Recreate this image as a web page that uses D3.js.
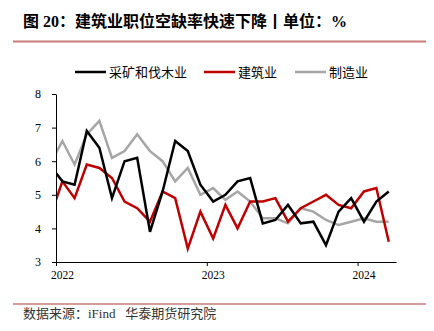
<!DOCTYPE html>
<html>
<head>
<meta charset="utf-8">
<script src="https://cdn.jsdelivr.net/npm/d3@7"></script>
<style>
  html, body { margin: 0; padding: 0; background: #fff; }
  svg { display: block; }
</style>
</head>
<body>
<svg id="chart" width="434" height="331"></svg>
<script>
// ---- data (monthly; Dec 2021 point is clipped at the axis) ----
const months = ["2021-12","2022-01","2022-02","2022-03","2022-04","2022-05","2022-06","2022-07","2022-08","2022-09","2022-10","2022-11","2022-12",
  "2023-01","2023-02","2023-03","2023-04","2023-05","2023-06","2023-07","2023-08","2023-09","2023-10","2023-11","2023-12",
  "2024-01","2024-02","2024-03"];
const mining = [5.9,5.4,5.3,6.9,6.4,4.9,6.0,6.1,3.9,5.1,6.6,6.3,5.3,
  4.8,5.0,5.4,5.5,4.15,4.25,4.7,4.15,4.2,3.5,4.5,4.9,4.2,4.8,5.1];
const construction = [4.3,5.4,4.9,5.9,5.8,5.5,4.8,4.6,4.2,5.1,4.9,3.4,4.5,
  3.7,4.7,4.0,4.8,4.8,4.9,4.2,4.6,4.8,5.0,4.7,4.6,5.1,5.2,3.6];
const manufacturing = [5.9,6.6,5.9,6.8,7.2,6.1,6.3,6.8,6.3,6.0,5.4,5.8,5.0,
  5.2,4.85,5.1,4.8,4.3,4.3,4.15,4.6,4.5,4.25,4.1,4.2,4.3,4.2,4.2];
const seriesNames = ["采矿和伐木业","建筑业","制造业"];
const seriesColors = ["#000000","#c00000","#a6a6a6"];
const yTicks = [3,4,5,6,7,8];
const yearTicks = ["2022","2023","2024"];
const titleText = "图 20：建筑业职位空缺率快速下降丨单位：%";
const sourceText = "数据来源：iFind   华泰期货研究院";

// ---- layout ----
const svg = d3.select("#chart");
const W = 434, H = 331;
const pL = 56, pR = 396, pT = 94, pB = 262;
const fontStack = "'Liberation Serif','Times New Roman','Noto Sans CJK SC',serif";
const cjkStack = "'Noto Sans CJK SC','Liberation Serif',sans-serif";

const parseM = d3.timeParse("%Y-%m");
const midMonth = s => { const d = parseM(s); const n = d3.timeMonth.offset(d, 1); return new Date((+d + +n) / 2); };

const x = d3.scaleTime()
  .domain([new Date(2022, 0, 1), new Date(2024, 3, 3)])
  .range([pL, pR]);
const y = d3.scaleLinear().domain([3, 8]).range([pB, pT]);

// title
svg.append("text")
  .attr("x", 23).attr("y", 27)
  .attr("font-family", fontStack)
  .attr("font-weight", "bold")
  .attr("font-size", 16)
  .attr("fill", "#000")
  .text(titleText);

// rules
svg.append("line").attr("x1", 13).attr("x2", 426).attr("y1", 41.5).attr("y2", 41.5)
  .attr("stroke", "#c97b7b").attr("stroke-width", 2);
svg.append("line").attr("x1", 13).attr("x2", 426).attr("y1", 304).attr("y2", 304)
  .attr("stroke", "#c97b7b").attr("stroke-width", 1.5);

// source
svg.append("text")
  .attr("x", 23).attr("y", 318)
  .attr("font-family", fontStack)
  .attr("font-size", 13)
  .attr("fill", "#333")
  .attr("xml:space", "preserve")
  .style("white-space", "pre")
  .text(sourceText);

// legend
const legendX = [75, 204, 295];
const leg = svg.append("g");
seriesNames.forEach((name, i) => {
  leg.append("line")
    .attr("x1", legendX[i]).attr("x2", legendX[i] + 31)
    .attr("y1", 72).attr("y2", 72)
    .attr("stroke", seriesColors[i]).attr("stroke-width", 2.5);
  leg.append("text")
    .attr("x", legendX[i] + 34).attr("y", 77)
    .attr("font-family", cjkStack)
    .attr("font-size", 13)
    .attr("fill", "#000")
    .text(name);
});

// clip
svg.append("clipPath").attr("id", "plotclip")
  .append("rect").attr("x", pL).attr("y", 0).attr("width", pR - pL).attr("height", H);

// lines
const seriesData = [mining, construction, manufacturing];
const line = d3.line()
  .x((d, i) => x(midMonth(months[i])))
  .y(d => y(d));
const plot = svg.append("g").attr("clip-path", "url(#plotclip)");
[2, 1, 0].forEach(k => {
  plot.append("path")
    .datum(seriesData[k])
    .attr("d", line)
    .attr("fill", "none")
    .attr("stroke", seriesColors[k])
    .attr("stroke-width", 2.5)
    .attr("stroke-linejoin", "miter");
});

// y axis
const yAxis = svg.append("g")
  .attr("transform", `translate(${pL},0)`)
  .call(d3.axisLeft(y).tickValues(yTicks).tickSize(4).tickSizeOuter(0).tickPadding(11).tickFormat(d3.format("d")));
yAxis.selectAll("text").attr("font-family", fontStack).attr("font-size", 12).attr("fill", "#000");
yAxis.selectAll("line, path").attr("stroke", "#000");

// x axis
const xAxis = svg.append("g")
  .attr("transform", `translate(0,${pB})`)
  .call(d3.axisBottom(x)
    .tickValues(yearTicks.map(s => new Date(+s, 0, 1)))
    .tickSize(4).tickSizeOuter(0).tickFormat(""));
xAxis.selectAll("line, path").attr("stroke", "#000");

svg.append("g").selectAll("text")
  .data(yearTicks)
  .join("text")
  .attr("x", d => x(midMonth(d + "-01")))
  .attr("y", 279)
  .attr("text-anchor", "middle")
  .attr("font-family", fontStack)
  .attr("font-size", 11.5)
  .attr("fill", "#000")
  .text(d => d);
</script>
</body>
</html>
